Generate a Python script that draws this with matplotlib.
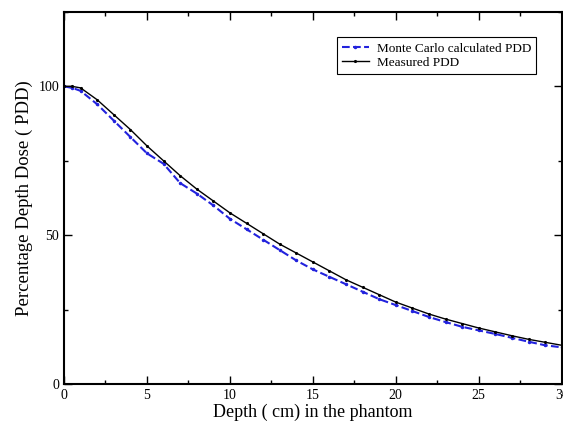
import numpy as np
from matplotlib import pyplot as plt
from matplotlib.ticker import MultipleLocator

plt.rcParams['font.family'] = ['Liberation Serif', 'DejaVu Serif']

depth = [0, 0.5, 1, 2, 3, 4, 5, 6, 7, 8, 9, 10, 11, 12, 13, 14, 15,
         16, 17, 18, 19, 20, 21, 22, 23, 24, 25, 26, 27, 28, 29, 30]
mc_pdd = [100, 99.5, 98.5, 94, 88.5, 83, 77.5, 74, 67.5, 64, 60, 55.5, 52, 48.5, 45, 41.5, 38.5,
          36, 33.5, 31, 28.5, 26.5, 24.5, 22.5, 20.8, 19.2, 18, 16.8, 15.5, 14.2, 13, 12.3]
measured_pdd = [100, 100, 99.5, 95.5, 90.5, 85.5, 80, 75, 70, 65.5, 61.5, 57.5, 54, 50.5, 47, 44, 41,
                38, 35, 32.5, 30, 27.5, 25.5, 23.5, 21.8, 20.3, 18.8, 17.5, 16.2, 15, 14, 13]

fig = plt.figure(figsize=(5.63, 4.29), dpi=100)
ax = fig.add_axes([0.1137, 0.105, 0.884, 0.867])

ax.plot(depth, mc_pdd, color='#2222dd', linestyle='--', linewidth=1.5,
        marker='.', markersize=3, label='Monte Carlo calculated PDD')
ax.plot(depth, measured_pdd, color='black', linestyle='-', linewidth=1.0,
        marker='.', markersize=2.5, label='Measured PDD')

ax.set_xlim(0, 30)
ax.set_ylim(0, 125)
ax.xaxis.set_major_locator(MultipleLocator(5))
ax.xaxis.set_minor_locator(MultipleLocator(2.5))
ax.yaxis.set_major_locator(MultipleLocator(50))
ax.yaxis.set_minor_locator(MultipleLocator(25))
ax.tick_params(which='both', direction='in', top=True, right=True, labelsize=10)
ax.tick_params(which='major', length=6, width=1)
ax.tick_params(which='minor', length=3, width=1)
for s in ax.spines.values():
    s.set_linewidth(1.5)

ax.set_xlabel('Depth ( cm) in the phantom', fontsize=13, labelpad=1)
ax.set_ylabel('Percentage Depth Dose ( PDD)', fontsize=13.5, labelpad=4)

leg = ax.legend(loc='upper right', bbox_to_anchor=(0.962, 0.95), fontsize=9.5,
                fancybox=False, edgecolor='black', framealpha=1, handlelength=2,
                borderpad=0.4, labelspacing=0.15, handletextpad=0.6)
leg.get_frame().set_linewidth(0.8)

fig.savefig('out.png', dpi=100)
